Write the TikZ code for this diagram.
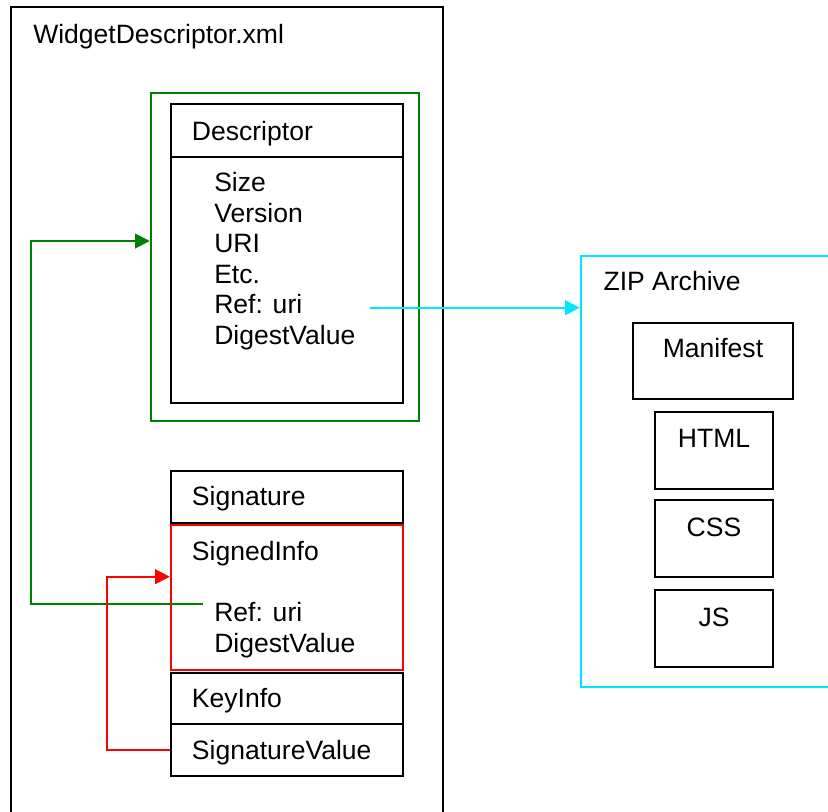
\documentclass[tikz,border=0pt]{standalone}
\usepackage{fontspec}
\setmainfont{Liberation Sans}
\usetikzlibrary{fit,arrows.meta}
\definecolor{dgreen}{RGB}{0,128,0}
\definecolor{dred}{RGB}{255,0,0}
\definecolor{dcyan}{RGB}{0,230,255}
\begin{document}
\begin{tikzpicture}[x=0.75pt,y=-0.75pt,
  box/.style={draw=black,line width=1.4pt,inner sep=0pt},
  gbox/.style={draw=dgreen,line width=1.4pt,inner sep=0pt},
  rbox/.style={draw=dred,line width=1.4pt,inner sep=0pt},
  cbox/.style={draw=dcyan,line width=1.4pt,inner sep=0pt},
  txt/.style={inner sep=0pt,font=\fontsize{19.9}{23}\selectfont},
  conn/.style={line width=1.4pt,-{Triangle[length=11pt,width=11pt]}}]
\useasboundingbox (0,0) rectangle (828,811);
\clip (0,0) rectangle (828,811);
\fill[white] (0,0) rectangle (828,811);
% outer file box
\node[box,fit={(11,7)(442.7,840)}] (outer) {};
\node[txt,anchor=base west] (ttl) at (33,43) {WidgetDescriptor.xml};
% descriptor
\node[gbox,fit={(150.7,93.3)(419.3,420.7)}] (gframe) {};
\node[box,fit={(170.7,104)(403.3,403.3)}] (desc) {};
\draw[line width=1.4pt] (desc.west |- 0,156.7) coordinate (dl) -- (dl -| desc.east);
\node[txt,anchor=base west] (dtitle) at (191.7,140) {Descriptor};
\node[txt,anchor=base west] (d1) at (214,191.7) {Size};
\node[txt,anchor=base west] (d2) at (214,222.2) {Version};
\node[txt,anchor=base west] (d3) at (214,252.7) {URI};
\node[txt,anchor=base west] (d4) at (214,283.2) {Etc.};
\node[txt,anchor=base west] (d5) at (214,313.7) {Ref: uri};
\node[txt,anchor=base west] (d6) at (214,344.2) {DigestValue};
% signature stack
\node[box,fit={(170.7,470.7)(403.3,522.7)}] (sig) {};
\node[rbox,fit={(170.7,525)(403.3,670)}] (sinfo) {};
\node[box,fit={(170.7,672.7)(403.3,724)}] (kinfo) {};
\node[box,fit={(170.7,724)(403.3,776)}] (sval) {};
\node[txt,anchor=base west] (s1) at (191.7,505.7) {Signature};
\node[txt,anchor=base west] (s2) at (191.7,560) {SignedInfo};
\node[txt,anchor=base west] (s3) at (214,621.7) {Ref: uri};
\node[txt,anchor=base west] (s4) at (214,652.3) {DigestValue};
\node[txt,anchor=base west] (s5) at (191.7,707.3) {KeyInfo};
\node[txt,anchor=base west] (s6) at (191.7,759.3) {SignatureValue};
% zip archive
\node[cbox,fit={(580.7,256)(845,686.7)}] (zip) {};
\node[txt,anchor=base west] (ztitle) at (603.3,290.7) {ZIP Archive};
\node[box,fit={(632.7,322.7)(793.3,398.7)}] (man) {};
\node[box,fit={(654.7,412)(773.3,488.7)}] (html) {};
\node[box,fit={(654.7,500)(773.3,576.7)}] (css) {};
\node[box,fit={(654.7,590)(773.3,666.7)}] (js) {};
\node[txt,anchor=base] (mt) at (713,357.3) {Manifest};
\node[txt,anchor=base] (ht) at (714,447.3) {HTML};
\node[txt,anchor=base] (ct) at (714,536) {CSS};
\node[txt,anchor=base] (jt) at (714,626) {JS};
% connectors
\coordinate (cstart) at (370,307.7);
\draw[conn,draw=dcyan] (cstart) -- (cstart -| zip.west);
\coordinate (gstart) at (202.7,604);
\coordinate (gcorner) at (30.7,241);
\draw[conn,draw=dgreen] (gstart) -| (gcorner) -- (gcorner -| gframe.west);
\coordinate (rcorner) at (106.7,576.7);
\draw[conn,draw=dred] (sval.west) -| (rcorner) -- (rcorner -| sinfo.west);
\end{tikzpicture}
\end{document}
